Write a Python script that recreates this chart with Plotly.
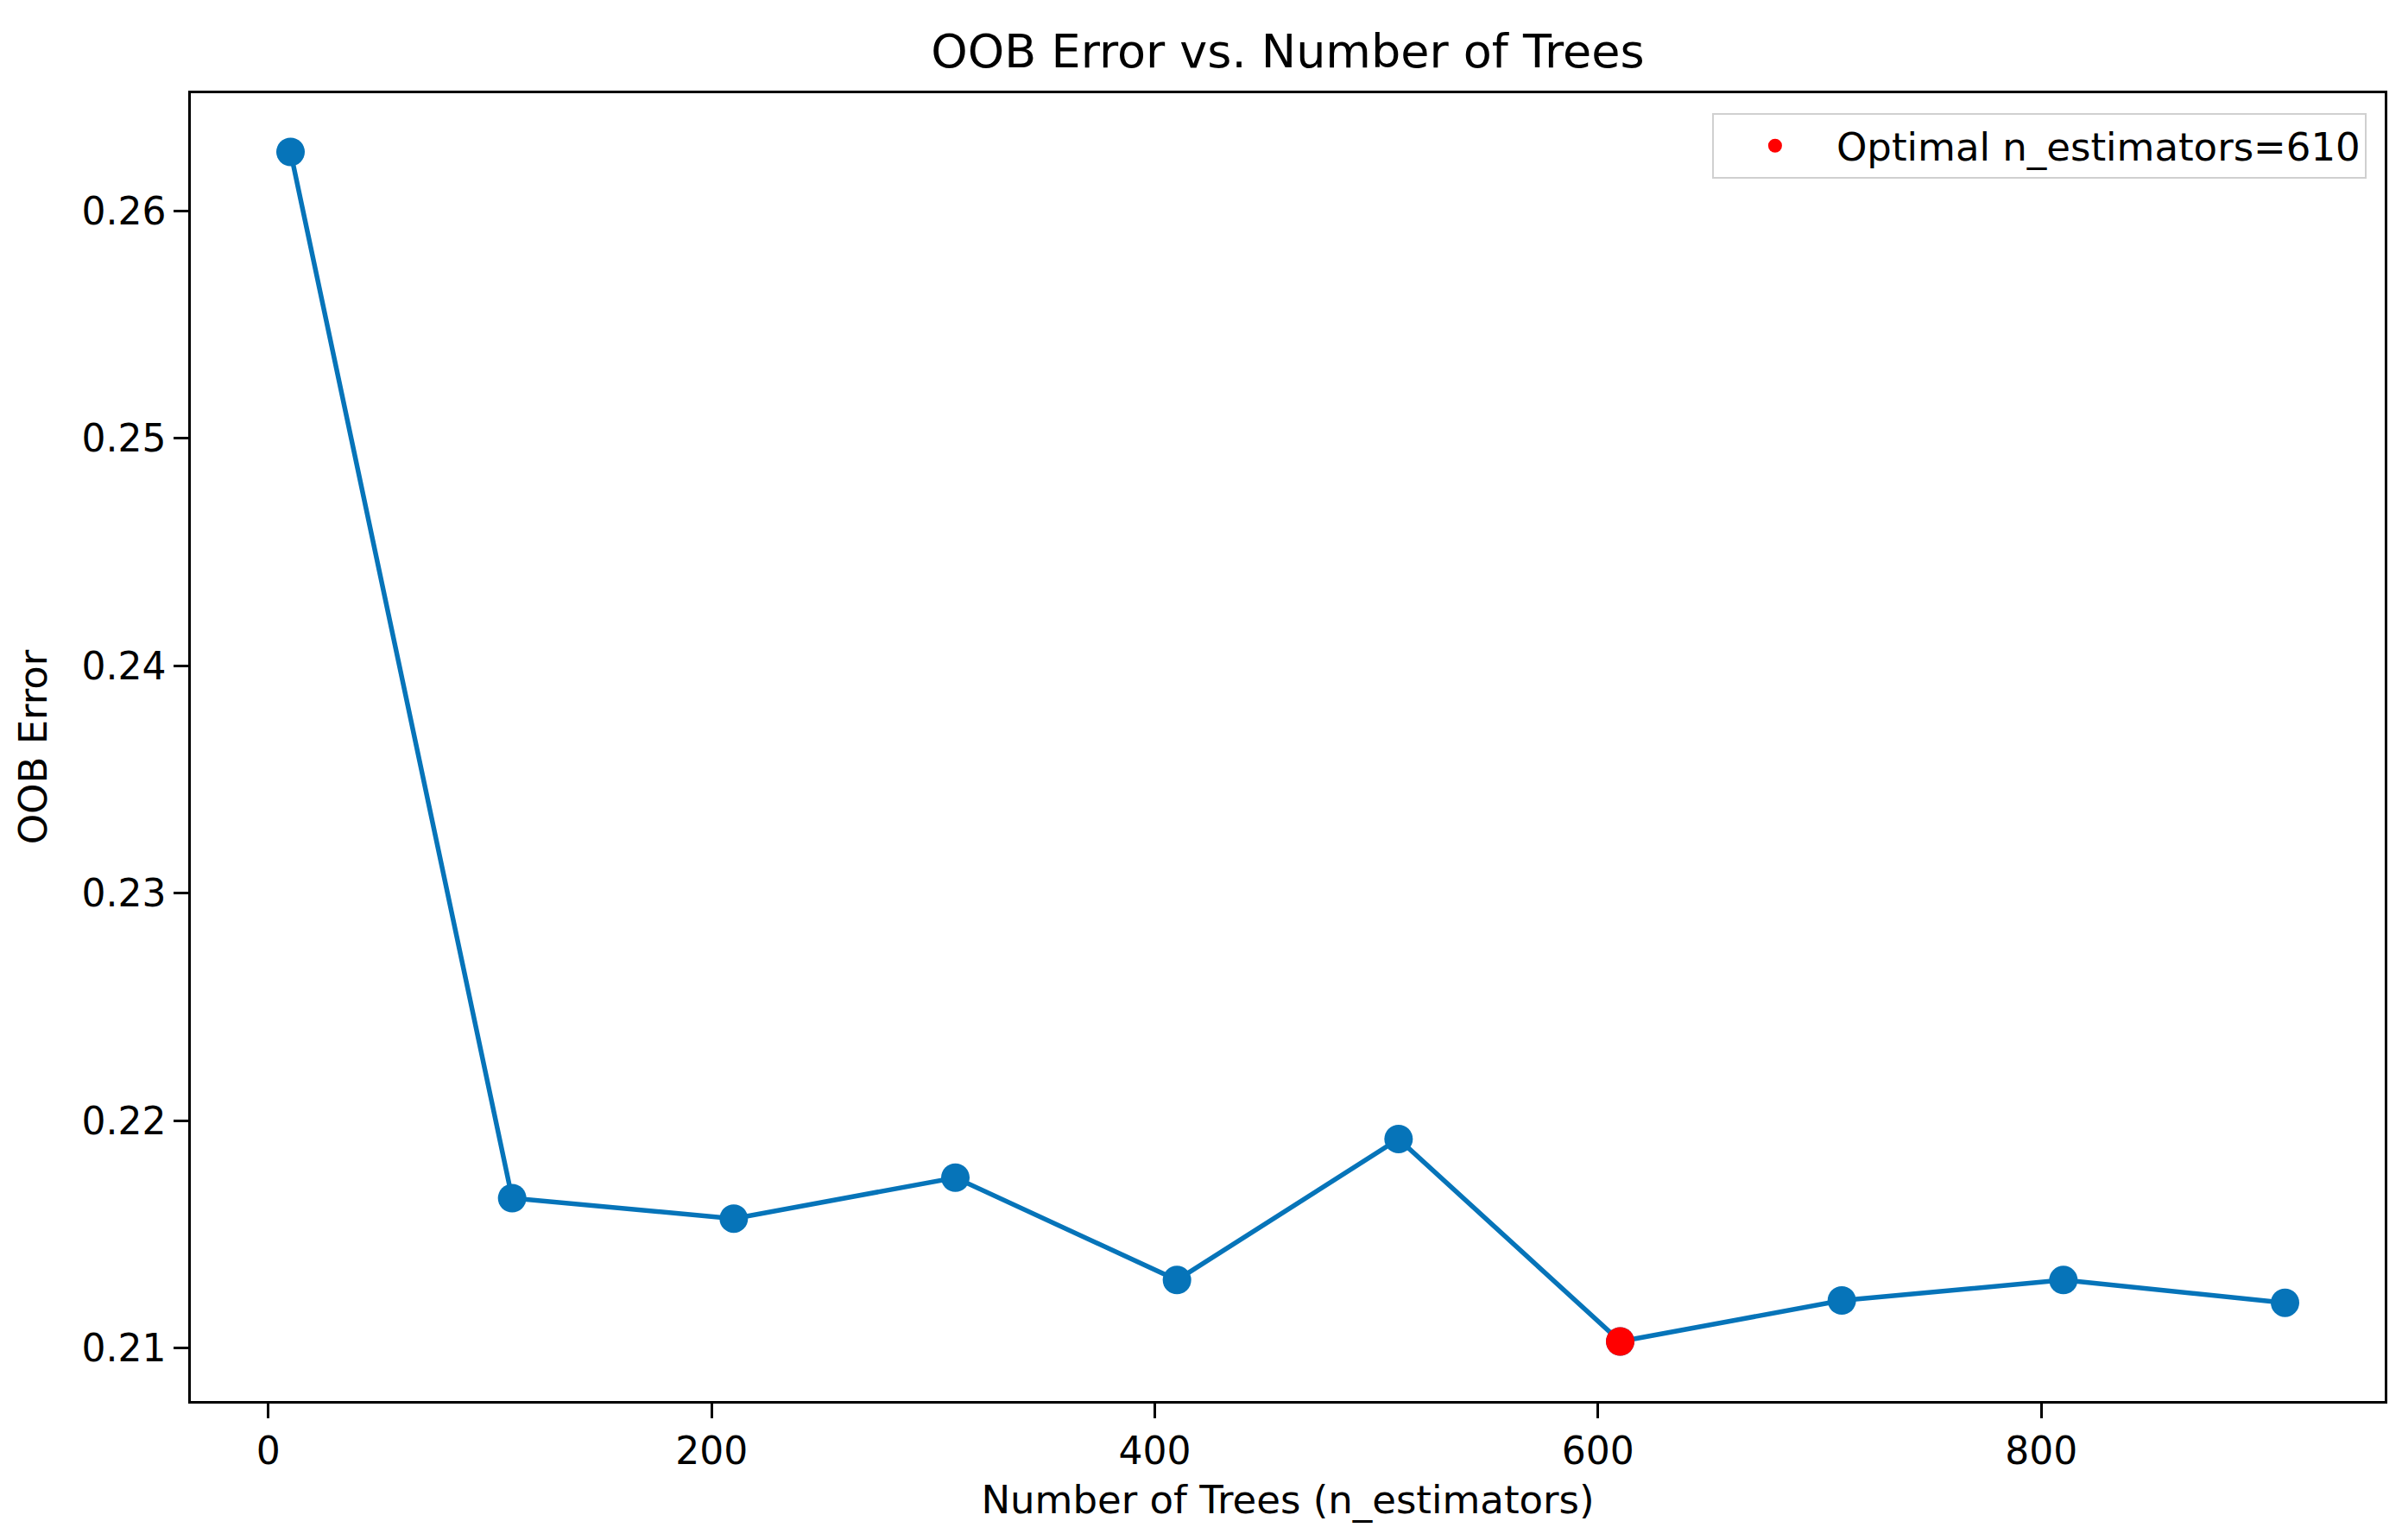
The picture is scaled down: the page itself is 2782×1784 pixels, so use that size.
import plotly.graph_objects as go

n_estimators = [10, 110, 210, 310, 410, 510, 610, 710, 810, 910]
oob_error = [0.2626, 0.2166, 0.2157, 0.2175, 0.2130, 0.2192, 0.2103, 0.2121, 0.2130, 0.2120]
optimal_n = 610
optimal_err = oob_error[n_estimators.index(optimal_n)]

x_ticks = [0, 200, 400, 600, 800]
y_ticks = [0.21, 0.22, 0.23, 0.24, 0.25, 0.26]

# page body has an 8px margin, so the figure is drawn 8px smaller
W, H = 2774, 1776
ml, mr, mt, mb = 213, 20, 100, 161
FONT = "DejaVu Sans"
BLUE = "#0674b9"

fig = go.Figure()
fig.add_trace(go.Scatter(
    x=n_estimators, y=oob_error, mode="lines+markers",
    line=dict(color=BLUE, width=5.5),
    marker=dict(color=BLUE, size=33),
    showlegend=False,
))
fig.add_trace(go.Scatter(
    x=[optimal_n], y=[optimal_err], mode="markers",
    marker=dict(color="#ff0000", size=33),
    name=f"Optimal n_estimators={optimal_n}",
))

axis_common = dict(
    showline=True, linecolor="black", linewidth=2.5, mirror=True,
    ticks="outside", ticklen=17, tickwidth=2.5, tickcolor="black",
    showgrid=False, zeroline=False,
    tickfont=dict(family=FONT, size=44, color="black"),
)

fig.update_layout(
    width=W, height=H,
    margin=dict(l=ml, r=mr, t=mt, b=mb),
    plot_bgcolor="white", paper_bgcolor="white",
    font=dict(family=FONT, color="black"),
    title=dict(text="OOB Error vs. Number of Trees", x=0.5 * (ml + W - mr) / W, xanchor="center",
               y=1 - 51 / H, yanchor="middle", yref="container",
               font=dict(family=FONT, size=54, color="black")),
    xaxis=dict(range=[-35, 955], tickvals=x_ticks,
               title=dict(text="Number of Trees (n_estimators)", standoff=17,
                          font=dict(family=FONT, size=45, color="black")),
               **axis_common),
    yaxis=dict(range=[0.20768, 0.26518], tickvals=y_ticks, tickformat=".2f",
               title=dict(text="OOB Error", standoff=26,
                          font=dict(family=FONT, size=45, color="black")),
               **axis_common),
    legend=dict(x=0.9917, y=0.9848, xanchor="right", yanchor="top",
                bgcolor="rgba(255,255,255,0.9)", bordercolor="#d0d0d0", borderwidth=2,
                font=dict(family=FONT, size=45, color="black"),
                itemsizing="trace", itemwidth=132),
)

fig.write_html("out.html")
